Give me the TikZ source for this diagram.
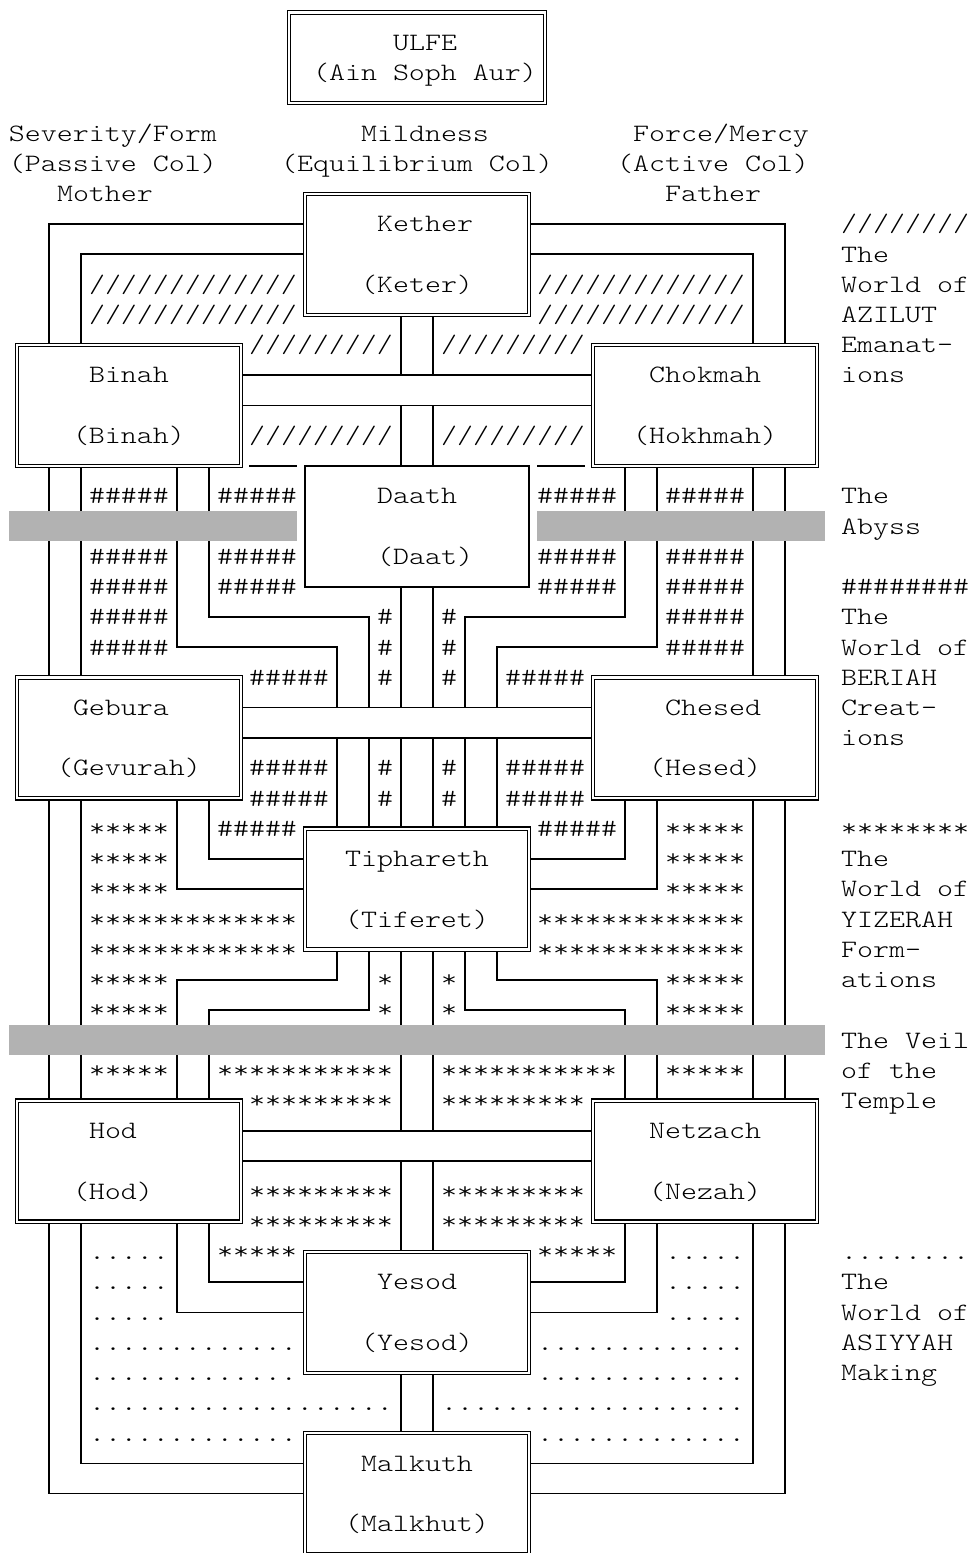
\documentclass[tikz,border=0pt]{standalone}
\usepackage{fontspec}
\newfontfamily\mono{lmmonolt10-regular.otf}[FakeStretch=1.219]
\newcommand\gap{\phantom{x}}
\newcommand\hh{\#\#\#\#\#}
\pgfdeclarelayer{back}
\pgfdeclarelayer{bg}
\pgfsetlayers{back,bg,main}
\tikzset{
  sephbox/.style={draw=black, line width=1.1pt, double=white, double distance=2.2pt, fill=white, inner sep=0pt, outer sep=0pt},
  daathbox/.style={draw=black, line width=1.5pt, fill=white, inner sep=0pt, outer sep=0pt},
  conn/.style={draw=black, line width=1.5pt},
  band/.style={fill=black!30},
  txtst/.style={anchor=base west, inner sep=0pt, outer sep=0pt, font=\mono\fontsize{25}{30}\selectfont, text=black},
}
\newcommand\sephnode[6][sephbox]{\node[#1, minimum width={16*(#4-#3)}, minimum height={30.23*(#6-#5)}] (#2) at ({(gx(#3)+gx(#4))/2},{(gy(#5)+gy(#6))/2}) {};}
\newcommand\gtxt[3]{\node[txtst] (t#1-#2) at ({gx(#1)-8},{gy(#2)-7.8}) {#3};}
\begin{document}
\begin{tikzpicture}[x=1pt,y=1pt, declare function={gx(\a)=1+16*\a; gy(\a)=-12.4-30.23*\a;}]
\useasboundingbox (0,0) rectangle (973,-1553);
\begin{pgfonlayer}{back}
\fill[white] (0,0) rectangle (973,-1553);
\end{pgfonlayer}
\foreach \i in {0,...,60} {\coordinate (C\i) at ({gx(\i)},0);}
\foreach \j in {0,...,51} {\coordinate (R\j) at (0,{gy(\j)});}

% ---------------- boxes ----------------
\sephnode{ulfe}{18}{34}{0}{3}
\sephnode{kether}{19}{33}{6}{10}
\sephnode{binah}{1}{15}{11}{15}
\sephnode{chokmah}{37}{51}{11}{15}
\sephnode[daathbox]{daath}{19}{33}{15}{19}
\sephnode{gebura}{1}{15}{22}{26}
\sephnode{chesed}{37}{51}{22}{26}
\sephnode{tiphareth}{19}{33}{27}{31}
\sephnode{hod}{1}{15}{36}{40}
\sephnode{netzach}{37}{51}{36}{40}
\sephnode{yesod}{19}{33}{41}{45}
\sephnode{malkuth}{19}{33}{47}{51}

% ---------------- connectors ----------------
\begin{pgfonlayer}{bg}
% Azilut
\draw[conn] (kether.west |- R7) -| (binah.north -| C3);
\draw[conn] (kether.west |- R8) -| (binah.north -| C5);
\draw[conn] (kether.east |- R7) -| (chokmah.north -| C49);
\draw[conn] (kether.east |- R8) -| (chokmah.north -| C47);
\draw[conn] (kether.south -| C25) -- (C25 |- R12);
\draw[conn] (kether.south -| C27) -- (C27 |- R12);
\draw[conn] (binah.east |- R12) -- (chokmah.west |- R12);
\draw[conn] (binah.east |- R13) -- (chokmah.west |- R13);
\draw[conn] (C25 |- R13) -- (daath.north -| C25);
\draw[conn] (C27 |- R13) -- (daath.north -| C27);
\draw[conn] ([xshift=8pt]binah.south east) -- ([xshift=-8pt]daath.north west);
\draw[conn] ([xshift=8pt]daath.north east) -- ([xshift=-8pt]chokmah.south west);
% Beriah
\draw[conn] (binah.south -| C3) -- (gebura.north -| C3);
\draw[conn] (binah.south -| C5) -- (gebura.north -| C5);
\draw[conn] (binah.south -| C11) |- (R21 -| C21) -- (R23 -| C21);
\draw[conn] (binah.south -| C13) |- (R20 -| C23) -- (R23 -| C23);
\draw[conn] (daath.south -| C25) -- (R23 -| C25);
\draw[conn] (daath.south -| C27) -- (R23 -| C27);
\draw[conn] (chokmah.south -| C39) |- (R20 -| C29) -- (R23 -| C29);
\draw[conn] (chokmah.south -| C41) |- (R21 -| C31) -- (R23 -| C31);
\draw[conn] (chokmah.south -| C47) -- (chesed.north -| C47);
\draw[conn] (chokmah.south -| C49) -- (chesed.north -| C49);
\draw[conn] (gebura.east |- R23) -- (chesed.west |- R23);
\draw[conn] (gebura.east |- R24) -- (chesed.west |- R24);
\foreach \c in {21,23,25,27,29,31} {\draw[conn] (R24 -| C\c) -- (tiphareth.north -| C\c);}
% Yetzirah
\draw[conn] (gebura.south -| C3) -- (hod.north -| C3);
\draw[conn] (gebura.south -| C5) -- (hod.north -| C5);
\draw[conn] (gebura.south -| C13) |- (tiphareth.west |- R28);
\draw[conn] (gebura.south -| C11) |- (tiphareth.west |- R29);
\draw[conn] (chesed.south -| C39) |- (tiphareth.east |- R28);
\draw[conn] (chesed.south -| C41) |- (tiphareth.east |- R29);
\draw[conn] (chesed.south -| C47) -- (netzach.north -| C47);
\draw[conn] (chesed.south -| C49) -- (netzach.north -| C49);
\draw[conn] (tiphareth.south -| C21) |- (R32 -| C11) -- (hod.north -| C11);
\draw[conn] (tiphareth.south -| C23) |- (R33 -| C13) -- (hod.north -| C13);
\draw[conn] (tiphareth.south -| C29) |- (R33 -| C39) -- (netzach.north -| C39);
\draw[conn] (tiphareth.south -| C31) |- (R32 -| C41) -- (netzach.north -| C41);
\draw[conn] (tiphareth.south -| C25) -- (R37 -| C25);
\draw[conn] (tiphareth.south -| C27) -- (R37 -| C27);
\draw[conn] (hod.east |- R37) -- (netzach.west |- R37);
\draw[conn] (hod.east |- R38) -- (netzach.west |- R38);
\draw[conn] (R38 -| C25) -- (yesod.north -| C25);
\draw[conn] (R38 -| C27) -- (yesod.north -| C27);
% Assiah
\draw[conn] (hod.south -| C13) |- (yesod.west |- R42);
\draw[conn] (hod.south -| C11) |- (yesod.west |- R43);
\draw[conn] (netzach.south -| C39) |- (yesod.east |- R42);
\draw[conn] (netzach.south -| C41) |- (yesod.east |- R43);
\draw[conn] (hod.south -| C5) |- (malkuth.west |- R48);
\draw[conn] (hod.south -| C3) |- (malkuth.west |- R49);
\draw[conn] (netzach.south -| C47) |- (malkuth.east |- R48);
\draw[conn] (netzach.south -| C49) |- (malkuth.east |- R49);
\draw[conn] (yesod.south -| C25) -- (malkuth.north -| C25);
\draw[conn] (yesod.south -| C27) -- (malkuth.north -| C27);
\end{pgfonlayer}

% ---------------- Abyss and Veil ----------------
\fill[band] ({gx(1)-8},{gy(17)+15.1}) rectangle ({gx(18)+8},{gy(17)-15.1});
\fill[band] ({gx(34)-8},{gy(17)+15.1}) rectangle ({gx(51)+8},{gy(17)-15.1});
\fill[band] ({gx(1)-8},{gy(34)+15.1}) rectangle ({gx(51)+8},{gy(34)-15.1});

% ---------------- headers ----------------
\gtxt{1}{4}{Severity/Form}
\gtxt{23}{4}{Mildness}
\gtxt{40}{4}{Force/Mercy}
\gtxt{1}{5}{(Passive\gap Col)}
\gtxt{18}{5}{(Equilibrium\gap Col)}
\gtxt{39}{5}{(Active\gap Col)}
\gtxt{4}{6}{Mother}
\gtxt{42}{6}{Father}

% ---------------- box labels ----------------
\gtxt{25}{1}{ULFE}
\gtxt{20}{2}{(Ain\gap Soph\gap Aur)}
\gtxt{24}{7}{Kether}
\gtxt{23}{9}{(Keter)}
\gtxt{6}{12}{Binah}
\gtxt{5}{14}{(Binah)}
\gtxt{41}{12}{Chokmah}
\gtxt{40}{14}{(Hokhmah)}
\gtxt{24}{16}{Daath}
\gtxt{24}{18}{(Daat)}
\gtxt{5}{23}{Gebura}
\gtxt{4}{25}{(Gevurah)}
\gtxt{42}{23}{Chesed}
\gtxt{41}{25}{(Hesed)}
\gtxt{22}{28}{Tiphareth}
\gtxt{22}{30}{(Tiferet)}
\gtxt{6}{37}{Hod}
\gtxt{5}{39}{(Hod)}
\gtxt{41}{37}{Netzach}
\gtxt{41}{39}{(Nezah)}
\gtxt{24}{42}{Yesod}
\gtxt{23}{44}{(Yesod)}
\gtxt{23}{48}{Malkuth}
\gtxt{22}{50}{(Malkhut)}

% ---------------- right-hand labels ----------------
\gtxt{53}{7}{////////}
\gtxt{53}{8}{The}
\gtxt{53}{9}{World\gap of}
\gtxt{53}{10}{AZILUT}
\gtxt{53}{11}{Emanat-}
\gtxt{53}{12}{ions}
\gtxt{53}{16}{The}
\gtxt{53}{17}{Abyss}
\gtxt{53}{19}{\#\#\#\#\#\#\#\#}
\gtxt{53}{20}{The}
\gtxt{53}{21}{World\gap of}
\gtxt{53}{22}{BERIAH}
\gtxt{53}{23}{Creat-}
\gtxt{53}{24}{ions}
\gtxt{53}{27}{********}
\gtxt{53}{28}{The}
\gtxt{53}{29}{World\gap of}
\gtxt{53}{30}{YIZERAH}
\gtxt{53}{31}{Form-}
\gtxt{53}{32}{ations}
\gtxt{53}{34}{The\gap Veil}
\gtxt{53}{35}{of\gap the}
\gtxt{53}{36}{Temple}
\gtxt{53}{41}{........}
\gtxt{53}{42}{The}
\gtxt{53}{43}{World\gap of}
\gtxt{53}{44}{ASIYYAH}
\gtxt{53}{45}{Making}

% ---------------- Azilut fill ----------------
\gtxt{6}{9}{/////////////}
\gtxt{34}{9}{/////////////}
\gtxt{6}{10}{/////////////}
\gtxt{34}{10}{/////////////}
\gtxt{16}{11}{/////////}
\gtxt{28}{11}{/////////}
\gtxt{16}{14}{/////////}
\gtxt{28}{14}{/////////}

% ---------------- Beriah fill ----------------
\foreach \r in {16,18,19} {\gtxt{6}{\r}{\hh}\gtxt{14}{\r}{\hh}\gtxt{34}{\r}{\hh}\gtxt{42}{\r}{\hh}}
\foreach \r in {20,21} {\gtxt{6}{\r}{\hh}\gtxt{42}{\r}{\hh}\gtxt{24}{\r}{\#}\gtxt{28}{\r}{\#}}
\foreach \r in {22,25,26} {\gtxt{16}{\r}{\hh}\gtxt{32}{\r}{\hh}\gtxt{24}{\r}{\#}\gtxt{28}{\r}{\#}}
\gtxt{14}{27}{\hh}
\gtxt{34}{27}{\hh}

% ---------------- Yetzirah fill ----------------
\foreach \r in {27,28,29,32,33,35} {\gtxt{6}{\r}{*****}\gtxt{42}{\r}{*****}}
\foreach \r in {30,31} {\gtxt{6}{\r}{*************}\gtxt{34}{\r}{*************}}
\foreach \r in {32,33} {\gtxt{24}{\r}{*}\gtxt{28}{\r}{*}}
\gtxt{14}{35}{***********}
\gtxt{28}{35}{***********}
\foreach \r in {36,39,40} {\gtxt{16}{\r}{*********}\gtxt{28}{\r}{*********}}
\gtxt{14}{41}{*****}
\gtxt{34}{41}{*****}

% ---------------- Assiah fill ----------------
\foreach \r in {41,42,43} {\gtxt{6}{\r}{.....}\gtxt{42}{\r}{.....}}
\foreach \r in {44,45,47} {\gtxt{6}{\r}{.............}\gtxt{34}{\r}{.............}}
\gtxt{6}{46}{...................}
\gtxt{28}{46}{...................}
\end{tikzpicture}
\end{document}
